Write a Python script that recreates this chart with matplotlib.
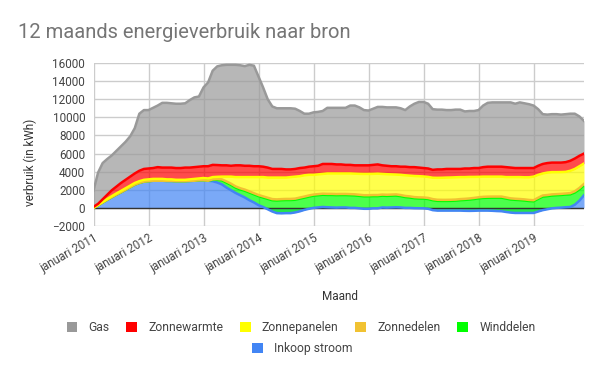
import numpy as np
import matplotlib.pyplot as plt
from matplotlib.patches import Patch

plt.rcParams['font.family'] = ['Roboto', 'DejaVu Sans']

# 12 maands voortschrijdend totaal, maandelijks jan 2011 .. dec 2019
years = list(range(2011, 2020))
tick_labels = ['januari %d' % y for y in years]

inkoop_stroom = [
    0, 290, 600, 900, 1190, 1470, 1730, 2010, 2290, 2570, 2760, 2900,
    2950, 3000, 3000, 3000, 2980, 2980, 2950, 2950, 2950, 2980, 3000, 3050,
    3050, 3000, 2950, 2800, 2600, 2250, 1950, 1650, 1400, 1150, 850, 600,
    300, 100, -150, -400, -580, -600, -580, -580, -500, -380, -220, -100,
    0, 50, 100, 70, 50, 30, 50, 50, 0, 0, -50, -100,
    -100, -50, -50, 50, 30, 50, 70, 50, 0, 0, -30, -40,
    -50, -100, -250, -300, -300, -300, -300, -300, -300, -320, -330, -320,
    -300, -300, -300, -320, -350, -370, -450, -520, -560, -560, -560, -560,
    -560, -400, -250, -150, -50, 0, 30, 70, 100, 350, 800, 1400]
winddelen = [0] * 26 + [
    150, 300, 450, 550, 600, 600, 650, 750, 850, 900,
    1000, 1050, 1150, 1250, 1400, 1450, 1450, 1450, 1400, 1400, 1350, 1350,
    1350, 1350, 1350, 1360, 1380, 1380, 1370, 1370, 1400, 1380, 1380, 1380,
    1380, 1350, 1350, 1300, 1300, 1300, 1300, 1250, 1200, 1150, 1100, 1080,
    1080, 1080, 1100, 1080, 1070, 1070, 1080, 1100, 1150, 1200, 1250, 1300,
    1350, 1400, 1420, 1450, 1480, 1500, 1480, 1450, 1450, 1420, 1380, 1320,
    1290, 1400, 1500, 1450, 1420, 1400, 1400, 1400, 1400, 1350, 1250, 1100]
zonnedelen = [0] * 26 + [50, 80, 100] + [120] * 75 + [130, 140, 150, 150]
zonnepanelen = [
    10, 40, 60, 90, 110, 130, 150, 160, 170, 180, 190, 200,
    200, 200, 200, 200, 170, 170, 150, 150, 150, 170, 200, 200,
    250, 250, 250, 250, 300, 530, 780, 1030, 1230, 1380, 1580, 1780,
    1980, 2130, 2230, 2380, 2410, 2380, 2360, 2410, 2430, 2360, 2350, 2280,
    2180, 2180, 2180, 2250, 2250, 2270, 2260, 2260, 2280, 2280, 2310, 2350,
    2350, 2340, 2360, 2280, 2270, 2230, 2190, 2230, 2280, 2290, 2330, 2340,
    2320, 2320, 2360, 2420, 2440, 2460, 2460, 2460, 2430, 2400, 2380, 2320,
    2260, 2230, 2210, 2200, 2200, 2200, 2250, 2350, 2390, 2420, 2440, 2500,
    2600, 2530, 2430, 2480, 2460, 2430, 2410, 2390, 2470, 2460, 2400, 2250]
zonnewarmte = [
    100, 120, 290, 460, 650, 750, 870, 930, 990, 1050, 1150, 1200,
    1200, 1200, 1300, 1250, 1300, 1300, 1300, 1300, 1350, 1300, 1300, 1300,
    1300, 1350, 1350, 1300, 1250, 1250, 1200, 1300, 1300, 1250, 1250, 1200,
    1200, 1150, 1100, 950, 950, 950, 900, 850, 850, 900, 850, 900,
    950, 950, 1100, 1050, 1050, 1000, 1000, 950, 950, 920, 940, 950,
    950, 990, 1020, 950, 930, 900, 920, 900, 950, 940, 980, 950,
    930, 930, 870, 930, 920, 950, 940, 920, 900, 950, 930, 980,
    970, 1050, 1100, 1100, 1100, 1100, 1100, 1050, 1000, 1000, 1020, 1020,
    950, 1000, 1050, 1050, 1050, 1050, 1040, 1070, 1100, 1150, 1150, 1100]
gas = [
    1800, 3450, 4000, 3950, 3850, 3950, 4050, 4200, 4450, 5000, 6300, 6500,
    6450, 6650, 6800, 7150, 7150, 7100, 7100, 7100, 7100, 7450, 7700, 7750,
    8700, 9250, 10400, 10900, 11050, 11100, 11150, 11100, 11050, 11000, 11150, 11100,
    9900, 8750, 7550, 6900, 6700, 6700, 6750, 6750, 6650, 6300, 5950, 5850,
    5950, 5950, 5850, 6200, 6200, 6250, 6250, 6300, 6550, 6600, 6400, 6100,
    6050, 6200, 6350, 6450, 6450, 6500, 6500, 6450, 6250, 6700, 7000, 7250,
    7300, 7150, 6700, 6600, 6600, 6500, 6500, 6550, 6550, 6300, 6350, 6300,
    6400, 6800, 7050, 7100, 7100, 7100, 7150, 7200, 7100, 7250, 7150, 7050,
    6900, 6250, 5500, 5350, 5350, 5350, 5300, 5300, 5200, 4950, 4350, 3600]

# stapelvolgorde van onder naar boven
series = [
    ('Inkoop stroom', inkoop_stroom, '#4285f4'),
    ('Winddelen', winddelen, '#00ff00'),
    ('Zonnedelen', zonnedelen, '#f1c232'),
    ('Zonnepanelen', zonnepanelen, '#ffff00'),
    ('Zonnewarmte', zonnewarmte, '#ff0000'),
    ('Gas', gas, '#999999'),
]

x = np.arange(len(gas))

fig = plt.figure(figsize=(6, 3.71), dpi=100)
ax = fig.add_axes([93.5 / 600, 1 - 226 / 371, (584 - 93.5) / 600, (226 - 63) / 371])

bottom = np.zeros(len(x))
for name, vals, col in series:
    top = bottom + np.array(vals)
    ax.fill_between(x, bottom, top, color=col, alpha=0.7, linewidth=0, zorder=2)
    ax.plot(x, top, color=col, lw=1.8, zorder=3)
    bottom = top

ax.axhline(0, color='#333333', lw=1, zorder=2.5)

ax.set_xlim(0, len(x) - 1)
ax.set_ylim(-2000, 16000)
ax.set_yticks(range(-2000, 16001, 2000))
ax.set_xticks(range(0, len(x), 12))
ax.set_xticklabels(tick_labels, rotation=30, ha='right', rotation_mode='anchor')
ax.grid(True, color='#cccccc', lw=1, zorder=0)
for s in ax.spines.values():
    s.set_visible(False)
ax.tick_params(length=0, labelsize=8.5, colors='#444444', pad=6)
ax.tick_params(axis='x', pad=4)

fig.text(18 / 600, 1 - 33 / 371, '12 maands energieverbruik naar bron',
         fontsize=14.5, color='#757575', va='center')
fig.text(30 / 600, 1 - 162 / 371, 'verbruik (in kWh)', rotation=90,
         fontsize=8.5, color='#333333', ha='center', va='center')
fig.text(340 / 600, 1 - 297 / 371, 'Maand', fontsize=8.5, color='#333333',
         ha='center', va='center')

legend_order = ['Gas', 'Zonnewarmte', 'Zonnepanelen', 'Zonnedelen', 'Winddelen', 'Inkoop stroom']
colors = {name: col for name, vals, col in series}
handles = [Patch(facecolor=colors[n], edgecolor='none', label=n) for n in legend_order]
kw = dict(loc='center', frameon=False, handlelength=0.9, handleheight=0.9,
          handletextpad=0.9, columnspacing=1.4, fontsize=8.7, labelcolor='#444444')
fig.legend(handles=handles[:5], ncol=5, bbox_to_anchor=(301 / 600, 1 - 327.5 / 371), **kw)
fig.legend(handles=handles[5:], ncol=1, bbox_to_anchor=(302 / 600, 1 - 348.5 / 371), **kw)

fig.savefig('out.png', dpi=100)
